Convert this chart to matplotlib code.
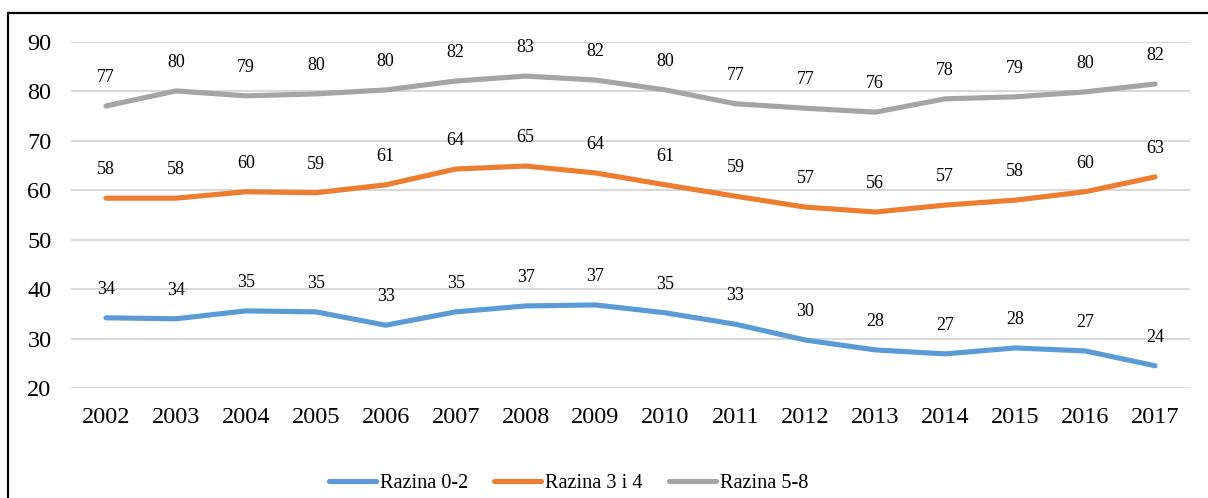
import matplotlib
matplotlib.use("Agg")
from matplotlib import pyplot as plt
from matplotlib.patches import Rectangle

years = list(range(2002, 2018))
razina_0_2 = [34.2, 34.0, 35.6, 35.4, 32.7, 35.4, 36.6, 36.8, 35.2, 32.9,
              29.7, 27.7, 26.9, 28.1, 27.5, 24.5]
razina_3_4 = [58.4, 58.4, 59.7, 59.5, 61.1, 64.3, 64.9, 63.5, 61.1, 58.8,
              56.6, 55.6, 57.0, 58.0, 59.7, 62.7]
razina_5_8 = [77.05, 80.1, 79.1, 79.5, 80.3, 82.1, 83.1, 82.3, 80.3, 77.5,
              76.6, 75.8, 78.5, 78.9, 79.9, 81.5]
labels_0_2 = [34, 34, 35, 35, 33, 35, 37, 37, 35, 33, 30, 28, 27, 28, 27, 24]
labels_3_4 = [58, 58, 60, 59, 61, 64, 65, 64, 61, 59, 57, 56, 57, 58, 60, 63]
labels_5_8 = [77, 80, 79, 80, 80, 82, 83, 82, 80, 77, 77, 76, 78, 79, 80, 82]
names = ['Razina 0-2', 'Razina 3 i 4', 'Razina 5-8']
colors = ['#5B9BD5', '#ED7D31', '#A5A5A5']

plt.rcParams['font.family'] = ['Liberation Serif', 'DejaVu Serif']

fig = plt.figure(figsize=(12.08, 4.98), dpi=100)
ax = fig.add_axes([0.0588, 0.2209, 0.9263, 0.6948])

xs = list(range(len(years)))
series = [(razina_0_2, labels_0_2), (razina_3_4, labels_3_4),
          (razina_5_8, labels_5_8)]
for (vals, labs), name, color in zip(series, names, colors):
    ax.plot(xs, vals, color=color, lw=3.7, solid_capstyle='round',
            solid_joinstyle='round', label=name, zorder=3)
    # value labels above the points
    for x, v, lab in zip(xs, vals, labs):
        ax.annotate(str(lab), (x, v), xytext=(0, 20.5),
                    textcoords='offset points', ha='center', va='center',
                    fontsize=13, color='#000000')

ax.set_xlim(-0.5, len(years) - 0.5)
ax.set_ylim(20, 90)
ax.set_yticks(range(20, 91, 10))
ax.set_xticks(xs)
ax.set_xticklabels([str(y) for y in years])
ax.tick_params(axis='both', length=0, labelsize=17.5)
ax.tick_params(axis='y', pad=14)
ax.tick_params(axis='x', pad=14)
ax.yaxis.grid(True, color='#D9D9D9', lw=1.5)
ax.set_axisbelow(True)
for s in ax.spines.values():
    s.set_visible(False)

fig.legend(loc='center', bbox_to_anchor=(0.4706, 0.029), ncol=3,
           frameon=False, fontsize=14.6, handlelength=2.3,
           handletextpad=0.2, columnspacing=1.3)

# outer border
fig.patches.append(Rectangle((8 / 1208, -0.2), 1.2, 0.2 + (498 - 13) / 498,
                             transform=fig.transFigure, fill=False,
                             edgecolor='black', lw=1.6))

fig.savefig('out.png', dpi=100)
